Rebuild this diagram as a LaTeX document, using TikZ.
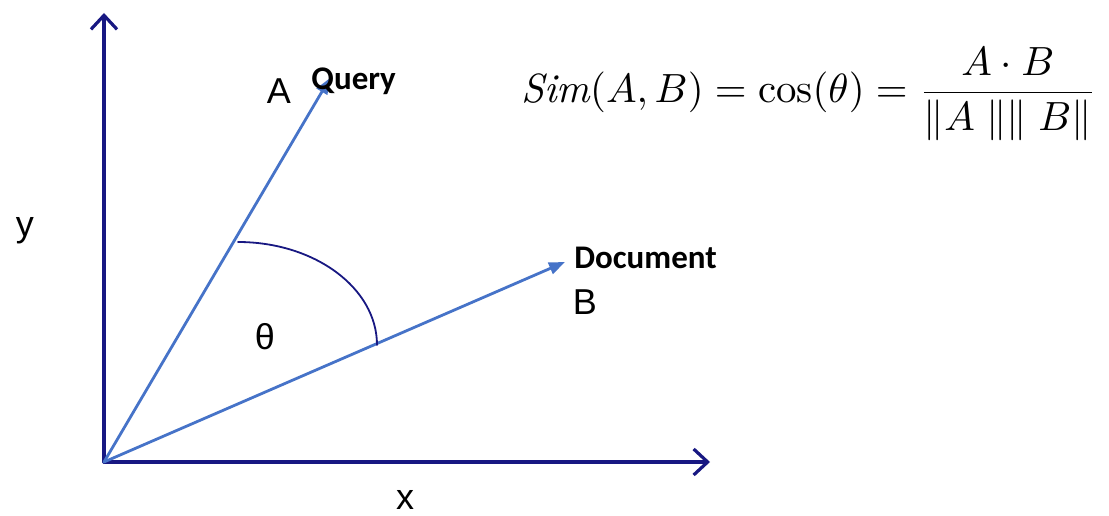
\documentclass[tikz,border=0pt]{standalone}
\usepackage{amsmath}
\usepackage{fontspec}
\newfontfamily\axisfont{Liberation Sans}
\newfontfamily\labelfont{Carlito}
\usetikzlibrary{arrows.meta}

\definecolor{axisnavy}{RGB}{24,24,130}
\definecolor{vecblue}{RGB}{70,115,200}

\begin{document}
\begin{tikzpicture}[x=0.5pt,y=0.5pt,>=Stealth,line cap=round,
    line join=round,
    axisline/.style={draw=axisnavy,line width=1.6pt,
      -{Straight Barb[length=7pt,width=13pt,line width=1.6pt]}},
    vecline/.style={draw=vecblue,line width=1.4pt,
      -{Triangle[length=8pt,width=6pt]}},
    axislabel/.style={font=\axisfont\fontsize{18}{20}\selectfont},
    vectag/.style={font=\labelfont\bfseries\fontsize{16.5}{18}\selectfont}]
    \useasboundingbox (0,0) rectangle (1109,515);

    % Origin and the two coordinate axes.
    \coordinate (O) at (104,53);
    \coordinate (ytip) at (104,502);
    \coordinate (xtip) at (710,53);
    \draw[axisline] (O) -- (ytip);
    \draw[axisline] (O) -- (xtip);
    \node[axislabel] (ylab) at (25,284) {y};
    \node[axislabel] (xlab) at (405,15) {x};

    % The query and document vectors.
    \coordinate (Atip) at (330,437);
    \coordinate (Btip) at (565,253);
    \draw[vecline] (O) -- (Atip);
    \draw[vecline] (O) -- (Btip);
    \node[axislabel] (Alab) at (279,424) {A};
    \node[vectag,anchor=west,inner sep=0pt] (query) at (311,434) {Query};
    \node[vectag,anchor=west,inner sep=0pt] (doc) at (574,257) {Document};
    \node[axislabel] (Blab) at (585,213) {B};

    % The angle between them.
    \coordinate (arcstart) at (238,273);
    \draw[axisnavy,line width=.9pt] (arcstart)
      arc[start angle=90,end angle=0,x radius=139,y radius=103];
    \node[axislabel] (theta) at (265,178) {θ};

    % Cosine similarity formula.
    \node (formula) at (809,421) {\scalebox{2.04}{%
      $\mathit{Sim}(A,B)=\cos(\theta)=\dfrac{A\cdot B}{\|A\;\|\|\;B\|}$}};
  \end{tikzpicture}
\end{document}
